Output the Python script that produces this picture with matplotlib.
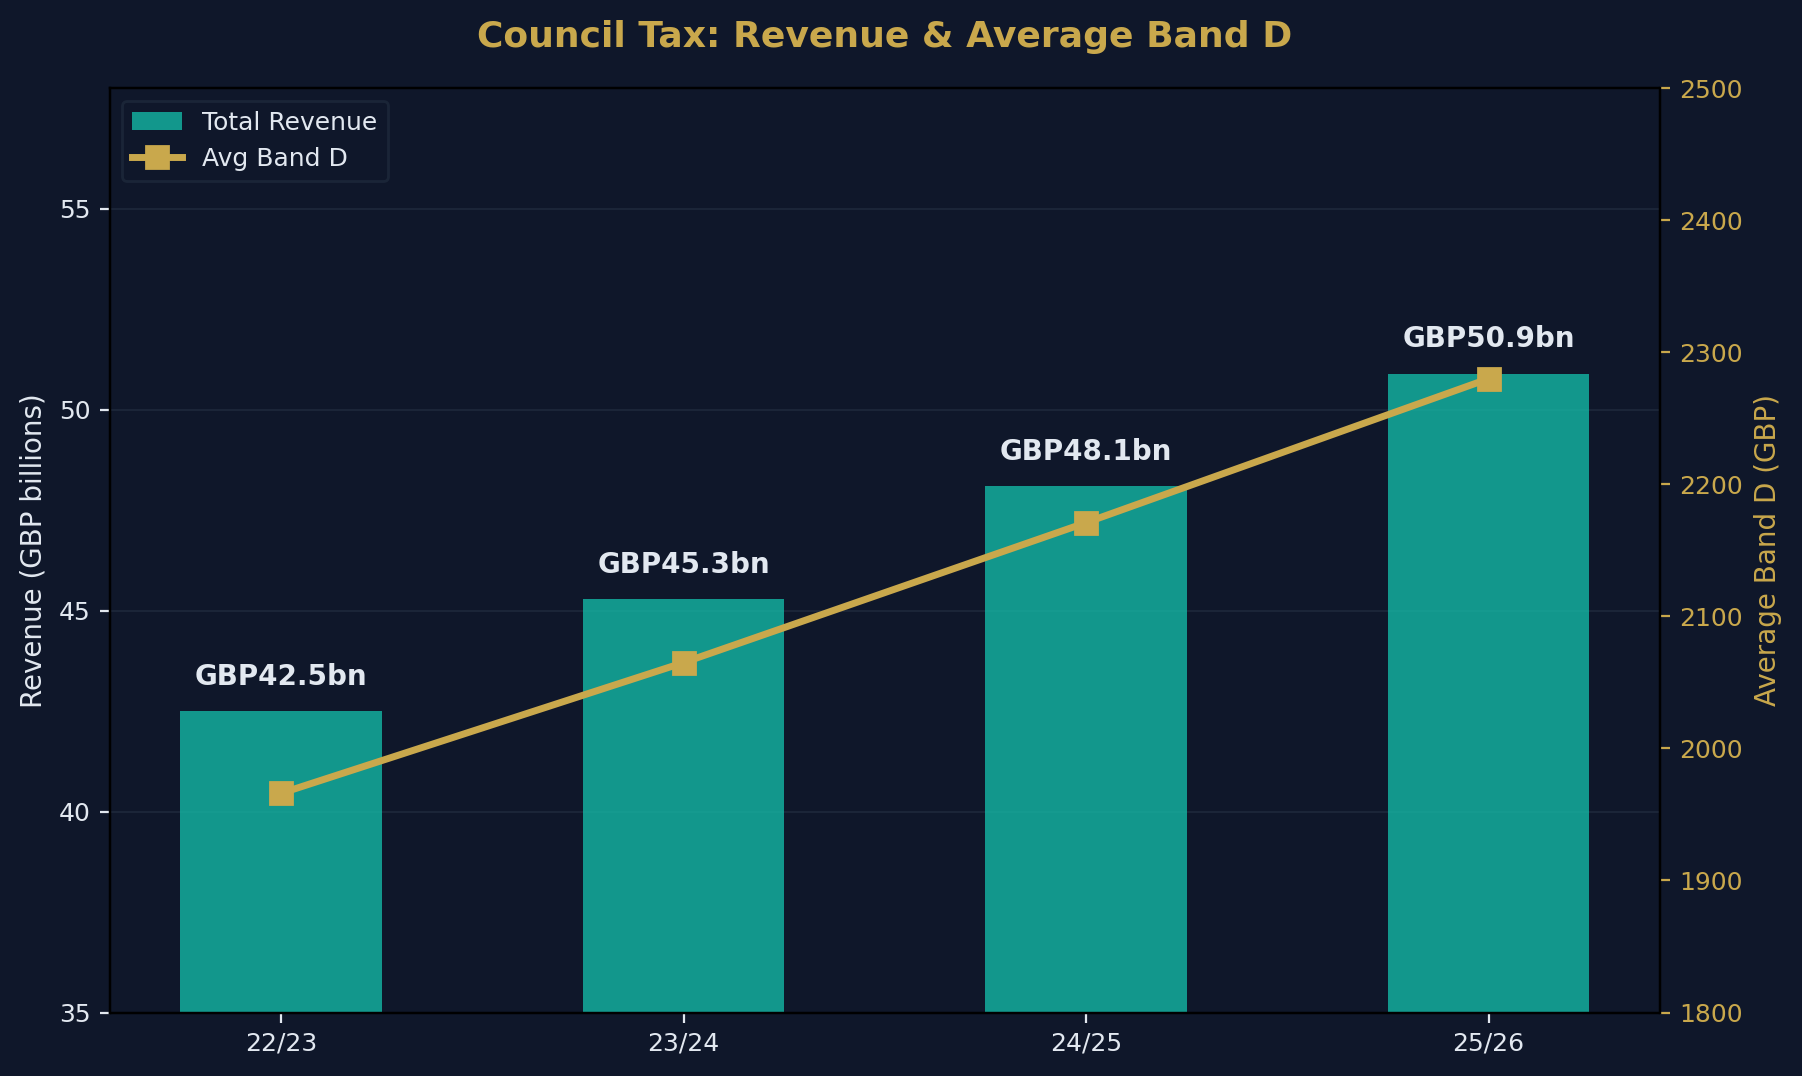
import matplotlib.pyplot as plt
import numpy as np

years = ['22/23', '23/24', '24/25', '25/26']
revenue = [42.5, 45.3, 48.1, 50.9]
band_d = [1966, 2065, 2171, 2280]

bg = '#0f172a'
teal = '#14b8a6'
gold = '#c9a84c'
txt = '#e2e8f0'
grid = '#1e293b'

x = np.arange(len(years))

fig, ax = plt.subplots(figsize=(9.01, 5.38), dpi=200)
fig.patch.set_facecolor(bg)
ax.set_facecolor(bg)

bars = ax.bar(x, revenue, 0.5, color=teal, alpha=0.8, label='Total Revenue', zorder=2)
ax.set_ylim(35, 58)
ax.set_ylabel('Revenue (GBP billions)', color=txt, fontsize=10)
ax.set_xticks(x)
ax.set_xticklabels(years)
ax.tick_params(colors=txt, labelsize=9)
ax.grid(axis='y', color=grid, linewidth=0.6, zorder=0)
ax.set_axisbelow(True)

# value labels above each bar
for rect, v in zip(bars, revenue):
    ax.text(rect.get_x() + rect.get_width() / 2, v + 0.5, 'GBP{}bn'.format(v),
            ha='center', va='bottom', color=txt, fontsize=10, fontweight='bold')

ax2 = ax.twinx()
line, = ax2.plot(x, band_d, color=gold, linewidth=2.5, marker='s', markersize=8,
                 label='Avg Band D', zorder=3)
ax2.set_ylim(1800, 2500)
ax2.set_ylabel('Average Band D (GBP)', color=gold, fontsize=10)
ax2.tick_params(axis='y', colors=gold, labelsize=9)

for a in (ax, ax2):
    for s in a.spines.values():
        s.set_color('black')

leg = ax.legend([bars, line], ['Total Revenue', 'Avg Band D'], loc='upper left',
                facecolor=bg, edgecolor=grid, fontsize=9)
for t in leg.get_texts():
    t.set_color(txt)

ax.set_title('Council Tax: Revenue & Average Band D', color=gold, fontsize=13,
             fontweight='bold', pad=15)

fig.subplots_adjust(left=0.061, right=0.921, top=0.918, bottom=0.059)
fig.savefig('out.png', dpi=200, facecolor=bg)
